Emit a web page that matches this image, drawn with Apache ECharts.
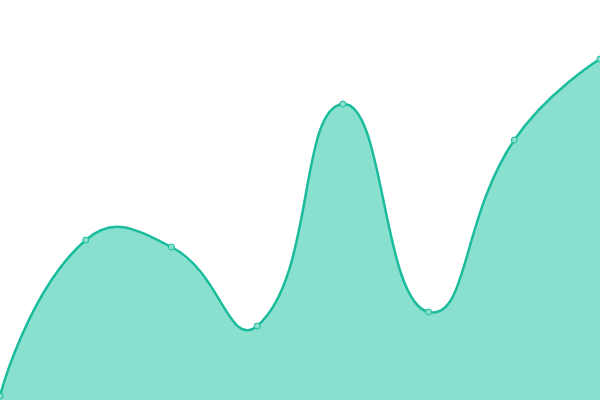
<!DOCTYPE html>
<html>
<head>
<meta charset="utf-8">
<script src="https://cdn.jsdelivr.net/npm/echarts@6/dist/echarts.min.js"></script>
<style>html,body{margin:0;padding:0;background:#fff}#c{width:600px;height:400px}</style>
</head>
<body>
<div id="c"></div>
<script>
const categories = ['A', 'B', 'C', 'D', 'E', 'F', 'G', 'H'];
const values = [4, 160, 153, 74, 296, 88, 260, 341];

const SMOOTH = 0.5;
const LINE = '#1abc9c';
const AREA = '#8ae0cf';

// Distance-weighted smooth bezier (ECharts 5 style, no extremum clamping)
function smoothPath(pts) {
  let d = 'M' + pts[0][0] + ' ' + pts[0][1];
  let cp0 = pts[0].slice();
  for (let i = 1; i < pts.length; i++) {
    const p = pts[i], prev = pts[i - 1], next = pts[i + 1];
    let cp1, nextCp0;
    if (next) {
      const vx = next[0] - prev[0], vy = next[1] - prev[1];
      const l0 = Math.hypot(p[0] - prev[0], p[1] - prev[1]);
      const l1 = Math.hypot(next[0] - p[0], next[1] - p[1]);
      const r = l1 / (l0 + l1);
      cp1 = [p[0] - vx * SMOOTH * (1 - r), p[1] - vy * SMOOTH * (1 - r)];
      nextCp0 = [p[0] + vx * SMOOTH * r, p[1] + vy * SMOOTH * r];
    } else {
      cp1 = p.slice();
      nextCp0 = p.slice();
    }
    d += ' C' + cp0[0] + ' ' + cp0[1] + ' ' + cp1[0] + ' ' + cp1[1] + ' ' + p[0] + ' ' + p[1];
    cp0 = nextCp0;
  }
  return d;
}

const chart = echarts.init(document.getElementById('c'), null, {renderer: 'canvas'});
chart.setOption({
  animation: false,
  grid: {left: 0, right: 0, top: 0, bottom: 0},
  xAxis: {type: 'category', data: categories, boundaryGap: false, show: false},
  yAxis: {type: 'value', min: 0, max: 400, show: false},
  series: [{
    type: 'custom',
    data: values.map((v, i) => [i, v]),
    clip: false,
    renderItem: function (params, api) {
      const children = [];
      if (params.dataIndex === 0) {
        const pts = values.map((v, i) => api.coord([i, v]));
        const base0 = api.coord([0, 0]);
        const baseN = api.coord([values.length - 1, 0]);
        const line = smoothPath(pts);
        const area = line + ' L' + baseN[0] + ' ' + baseN[1] + ' L' + base0[0] + ' ' + base0[1] + ' Z';
        children.push({type: 'path', shape: {pathData: area}, style: {fill: AREA, stroke: null}});
        children.push({type: 'path', shape: {pathData: line}, style: {fill: null, stroke: LINE, lineWidth: 2.5}});
      }
      const c = api.coord([api.value(0), api.value(1)]);
      children.push({type: 'circle', shape: {cx: c[0], cy: c[1], r: 3}, style: {fill: AREA, stroke: LINE, lineWidth: 1}, z2: 10});
      return {type: 'group', children: children};
    }
  }]
});
</script>
</body>
</html>
